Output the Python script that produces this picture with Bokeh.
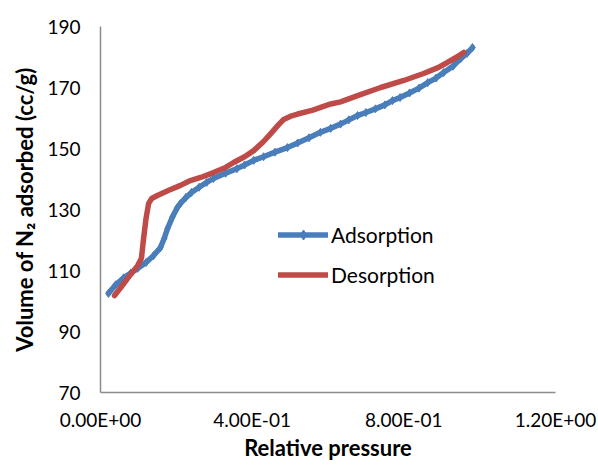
from bokeh.plotting import figure
from bokeh.models import FixedTicker, Legend, LegendItem, Range1d
from bokeh.embed import file_html
from bokeh.resources import INLINE

# ---- data ----
ads_x = [0.021, 0.04, 0.061, 0.08, 0.098, 0.12, 0.14, 0.158, 0.168, 0.177, 0.19, 0.203,
         0.211, 0.225, 0.24, 0.26, 0.28, 0.298, 0.33, 0.36, 0.38, 0.404, 0.43, 0.46,
         0.493, 0.52, 0.55, 0.58, 0.607, 0.633, 0.655, 0.678, 0.70, 0.725, 0.75, 0.77,
         0.79, 0.815, 0.84, 0.863, 0.885, 0.905, 0.93, 0.95, 0.967, 0.981]
ads_y = [102.5, 105.3, 107.6, 109.2, 110.7, 112.6, 114.9, 117.5, 120.5, 123.8, 127.6, 130.7,
         132.0, 133.9, 135.6, 137.3, 138.9, 140.2, 141.9, 143.4, 144.6, 146.1, 147.3, 148.8,
         150.3, 151.8, 153.5, 155.3, 156.6, 158.0, 159.4, 160.8, 161.8, 163.0, 164.3, 165.7,
         166.7, 168.2, 169.8, 171.6, 173.1, 174.9, 177.0, 179.5, 181.2, 183.1]

des_x = [0.037, 0.06, 0.08, 0.098, 0.108, 0.113, 0.12, 0.127, 0.135, 0.15, 0.18, 0.211,
         0.237, 0.264, 0.298, 0.33, 0.351, 0.38, 0.404, 0.43, 0.449, 0.468, 0.483, 0.50,
         0.52, 0.56, 0.607, 0.633, 0.68, 0.739, 0.80, 0.852, 0.89, 0.915, 0.94, 0.958]
des_y = [101.8, 105.5, 108.8, 111.6, 114.0, 119.8, 127.0, 132.0, 133.6, 134.6, 136.3, 137.9,
         139.5, 140.5, 142.1, 143.8, 145.4, 147.3, 149.3, 152.3, 154.9, 157.6, 159.5, 160.5,
         161.3, 162.6, 164.6, 165.3, 167.4, 170.0, 172.3, 174.6, 176.5, 178.2, 180.0, 181.5]

x_ticks = [0.0, 0.4, 0.8, 1.2]
x_tick_labels = ["0.00E+00", "4.00E-01", "8.00E-01", "1.20E+00"]
y_ticks = [70, 90, 110, 130, 150, 170, 190]

series_names = ["Adsorption", "Desorption"]
x_title = "Relative pressure"
y_title = "Volume of N\u2082 adsorbed (cc/g)"

BLUE = "#4A7EBB"
RED = "#BE4B48"
FONT = "Lato"
AXIS_GREY = "#8C8C8C"

p = figure(width=598, height=466, output_backend="svg", toolbar_location=None,
           x_range=Range1d(0, 1.2), y_range=Range1d(70, 190),
           min_border_left=100, min_border_right=43, min_border_top=26, min_border_bottom=74)
p.outline_line_color = None
p.xgrid.visible = False
p.ygrid.visible = False
p.background_fill_color = "white"
p.border_fill_color = "white"

# lines
r_ads = p.line(ads_x, ads_y, line_color=BLUE, line_width=5.5, line_join="round", line_cap="round")
r_ads_m = p.scatter(ads_x, ads_y, marker="diamond", size=8, fill_color=BLUE, line_color=BLUE)
r_des = p.line(des_x, des_y, line_color=RED, line_width=5.5, line_join="round", line_cap="round")

# axes
for ax in (p.xaxis[0], p.yaxis[0]):
    ax.axis_line_color = AXIS_GREY
    ax.axis_line_width = 1.5
    ax.major_tick_out = 0
    ax.major_tick_in = 0
    ax.minor_tick_out = 0
    ax.minor_tick_in = 0
    ax.major_label_text_font = FONT
    ax.major_label_text_font_size = "19px"
    ax.major_label_text_color = "#000000"
    ax.axis_label_text_font = FONT
    ax.axis_label_text_font_size = "22px"
    ax.axis_label_text_font_style = "bold"
    ax.axis_label_text_color = "#000000"

p.xaxis[0].ticker = FixedTicker(ticks=x_ticks)
p.xaxis[0].major_label_overrides = {t: l for t, l in zip(x_ticks, x_tick_labels)}
p.xaxis[0].major_label_standoff = 15
p.xaxis[0].axis_label = x_title
p.xaxis[0].axis_label_standoff = 0

p.yaxis[0].ticker = FixedTicker(ticks=y_ticks)
p.yaxis[0].major_label_standoff = 20
p.yaxis[0].axis_label = y_title
p.yaxis[0].axis_label_standoff = 6

legend = Legend(items=[LegendItem(label=series_names[0], renderers=[r_ads, r_ads_m]),
                       LegendItem(label=series_names[1], renderers=[r_des])],
                location=(178, 105), orientation="vertical",
                glyph_width=50, glyph_height=25, label_height=25, spacing=15,
                label_standoff=3, padding=0, margin=0,
                border_line_color=None, background_fill_alpha=0,
                label_text_font=FONT, label_text_font_size="21px", label_text_color="#000000")
p.add_layout(legend)

open("out.html", "w").write(file_html(p, INLINE))
